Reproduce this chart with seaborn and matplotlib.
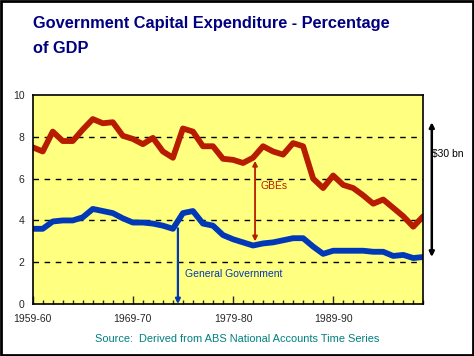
import matplotlib
matplotlib.use('Agg')
from matplotlib import pyplot as plt
import matplotlib.patches as mpatches
from matplotlib.ticker import MultipleLocator
import numpy as np
import pandas as pd
import seaborn as sns

# Financial years 1959-60 .. 1998-99
years = [f"{y}-{str(y + 1)[-2:]}" for y in range(1959, 1999)]
year_idx = list(range(len(years)))

# Total (general government + GBEs), % of GDP
total = [7.5, 7.3, 8.25, 7.8, 7.8, 8.35, 8.85, 8.65, 8.7, 8.05,
         7.9, 7.65, 7.95, 7.3, 7.0, 8.4, 8.25, 7.55, 7.55, 6.95,
         6.9, 6.75, 7.0, 7.55, 7.3, 7.15, 7.7, 7.55, 6.0, 5.55,
         6.15, 5.7, 5.55, 5.2, 4.8, 5.0, 4.6, 4.2, 3.7, 4.2]
# General government, % of GDP
gen_gov = [3.6, 3.6, 3.95, 4.0, 4.0, 4.15, 4.55, 4.45, 4.35, 4.1,
           3.9, 3.9, 3.85, 3.75, 3.6, 4.35, 4.45, 3.85, 3.75, 3.3,
           3.1, 2.95, 2.8, 2.9, 2.95, 3.05, 3.15, 3.15, 2.75, 2.4,
           2.55, 2.55, 2.55, 2.55, 2.5, 2.5, 2.3, 2.35, 2.2, 2.25]

major_labels = ["1959-60", "1969-70", "1979-80", "1989-90"]

df = pd.DataFrame({"idx": year_idx, "total": total, "gen_gov": gen_gov})

sns.set_style("white")
plt.rcParams['font.family'] = ['Liberation Sans', 'DejaVu Sans']

fig = plt.figure(figsize=(4.74, 3.56), dpi=100)
fig.patch.set_facecolor("white")
ax = fig.add_axes([0.069, 0.146, 0.824, 0.587])
ax.set_facecolor("#FFFF80")

red = "#B81C00"
blue = "#0038B8"
sns.lineplot(data=df, x="idx", y="total", color=red, linewidth=4.2, ax=ax)
sns.lineplot(data=df, x="idx", y="gen_gov", color=blue, linewidth=4.2, ax=ax)

ax.set_xlim(0, 39)
ax.set_ylim(0, 10)
for v in [2, 4, 6, 8]:
    ax.axhline(v, color="black", linestyle=(0, (4, 4)), linewidth=1, zorder=0.5)

ax.set_xticks([0, 10, 20, 30])
ax.set_xticklabels(major_labels, fontsize=7.5)
ax.xaxis.set_minor_locator(MultipleLocator(1))
ax.tick_params(axis="x", which="major", direction="in", length=6, width=1, pad=7, bottom=True)
ax.tick_params(axis="x", which="minor", direction="in", length=3, width=1, bottom=True)
ax.set_yticks([0, 2, 4, 6, 8, 10])
ax.set_yticklabels(["0", "2", "4", "6", "8", "10"], fontsize=7.5)
ax.tick_params(axis="y", length=0, pad=6)
ax.set_xlabel("")
ax.set_ylabel("")
for s in ax.spines.values():
    s.set_color("black")
    s.set_linewidth(1.2)

# Annotations
ax.annotate("", xy=(14.5, 0), xytext=(14.5, 3.62),
            arrowprops=dict(arrowstyle="-|>", color=blue, lw=1.6,
                            mutation_scale=7, shrinkA=0, shrinkB=0))
ax.text(15.2, 1.45, "General Government", color=blue, fontsize=7.5, va="center")

ax.annotate("", xy=(22.2, 3.0), xytext=(22.2, 6.85),
            arrowprops=dict(arrowstyle="<|-|>", color=red, lw=1.3,
                            mutation_scale=7, shrinkA=0, shrinkB=0))
ax.text(22.7, 5.65, "GBEs", color=red, fontsize=7.5, va="center")

ax.annotate("", xy=(39.85, 2.25), xytext=(39.85, 8.7),
            arrowprops=dict(arrowstyle="<|-|>", color="black", lw=1.8,
                            mutation_scale=7, shrinkA=0, shrinkB=0),
            annotation_clip=False)
ax.text(39.85, 7.2, "$30 bn", color="black", fontsize=7.5, va="center", clip_on=False)

fig.text(0.07, 0.954, "Government Capital Expenditure - Percentage\nof GDP",
         color="#000080", fontsize=11.8, fontweight="bold", va="top",
         linespacing=1.8)
fig.text(0.5, 0.048, "Source:  Derived from ABS National Accounts Time Series",
         color="#008080", fontsize=7.9, ha="center", va="center")

fig.patches.append(mpatches.Rectangle((0.002, 0.003), 0.996, 0.994, transform=fig.transFigure,
                                      fill=False, edgecolor="black", linewidth=2))

fig.savefig("out.png", dpi=100)
